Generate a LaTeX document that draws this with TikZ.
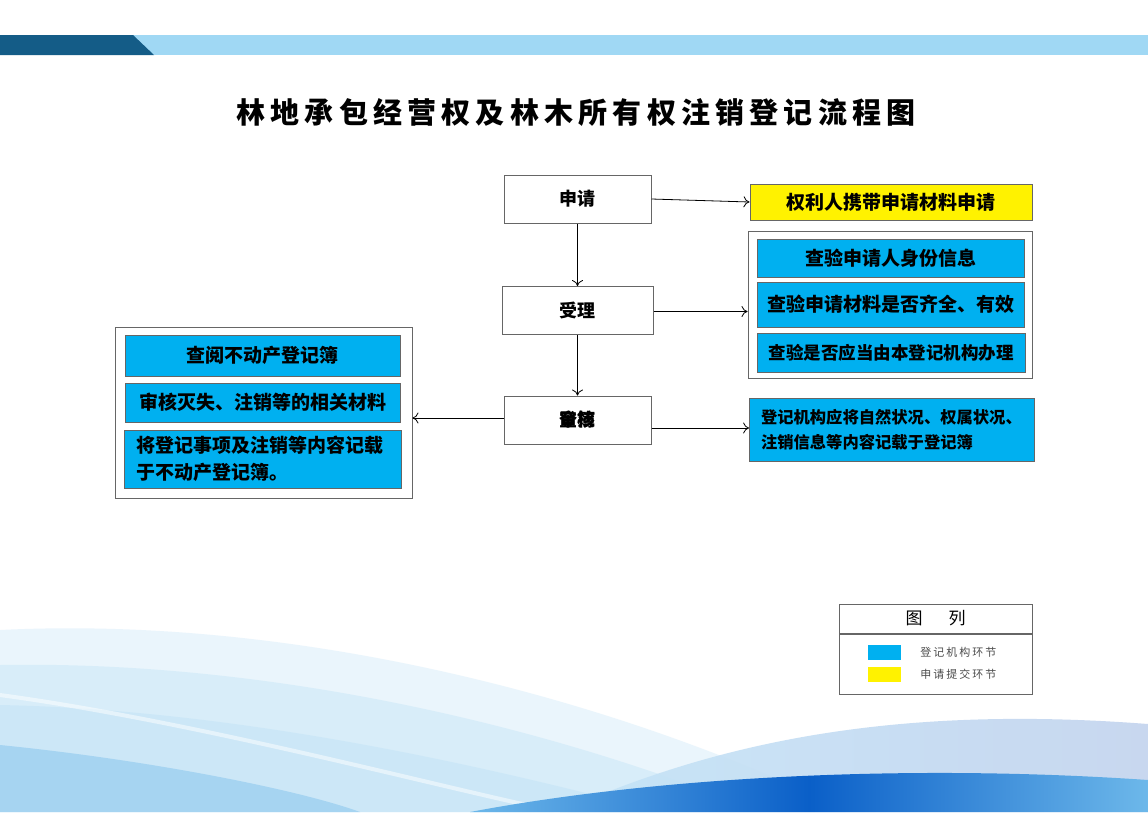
\documentclass[tikz,border=0pt]{standalone}
\usepackage{fontspec}
\usepackage{tikz}
\usetikzlibrary{positioning,arrows.meta}
\setmainfont{Noto Sans CJK SC}
\newfontfamily\titlefont[LetterSpace=18]{Noto Sans CJK SC}
\newfontfamily\legendfont[LetterSpace=18]{Noto Sans CJK SC}

\definecolor{regblue}{HTML}{00B0F0}
\definecolor{bandlight}{HTML}{A0D8F4}
\definecolor{banddark}{HTML}{145C87}
\definecolor{edgegray}{HTML}{666666}
\definecolor{wavelight}{HTML}{C4E4F7}
\definecolor{wavemid}{HTML}{6DB8EA}
\definecolor{wavedeep}{HTML}{0A5FC8}
\definecolor{wavehill}{HTML}{C3D3EE}

\begin{document}
\begin{tikzpicture}[x=1pt,y=-1pt,
  stepnode/.style={draw=edgegray,line width=1pt,fill=white,minimum width=147pt,minimum height=48pt,inner sep=0pt,font=\fontsize{18}{20}\selectfont\bfseries},
  regbox/.style={draw=edgegray,line width=0.8pt,fill=regblue,inner sep=0pt,font=\fontsize{19}{27}\selectfont\bfseries},
  groupbox/.style={draw=edgegray,line width=1pt,fill=white,inner sep=0pt},
  link/.style={-{To[length=6pt,width=11pt]},line width=0.8pt}]
\useasboundingbox (0,0) rectangle (1148,812);
\fill[white] (0,0) rectangle (1148,812);

% background waves
\fill[wavelight,opacity=0.35] (0,630) .. controls (300,615) and (620,700) .. (850,812) -- (0,812) -- cycle;
\fill[wavelight,opacity=0.45] (0,665) .. controls (280,660) and (560,730) .. (760,812) -- (0,812) -- cycle;
\fill[wavelight,opacity=0.6] (0,705) .. controls (250,710) and (500,770) .. (660,812) -- (0,812) -- cycle;
\draw[white,line width=4pt,opacity=0.5] (0,695) .. controls (200,722) and (450,790) .. (560,812);
\fill[wavemid,opacity=0.4] (0,745) .. controls (150,760) and (300,790) .. (360,812) -- (0,812) -- cycle;
\path[left color=wavelight,right color=wavehill,opacity=0.9] (560,812) .. controls (720,740) and (900,705) .. (1148,724) -- (1148,812) -- cycle;
\path[left color=wavemid,right color=wavemid,middle color=wavedeep] (470,812) .. controls (650,778) and (900,763) .. (1148,780) -- (1148,812) -- cycle;

% top band
\fill[bandlight] (0,35) rectangle (1148,55);
\fill[banddark] (0,35) -- (133,35) -- (154,55) -- (0,55) -- cycle;

\node (title) at (576,112) {\titlefont\fontsize{29}{32}\selectfont\bfseries 林地承包经营权及林木所有权注销登记流程图};

% main steps
\node[stepnode] (apply) at (577.5,199) {申请};
\node[stepnode,minimum width=151pt] (accept) at (577.5,310.5) {受理};
\node[stepnode] (review) at (577.5,420) {审核};
\node[font=\fontsize{18}{20}\selectfont\bfseries] (record) at (review) {登簿};

% right side
\node[draw=edgegray,line width=1pt,fill=yellow,minimum width=282pt,minimum height=36pt,inner sep=0pt,font=\fontsize{19}{22}\selectfont\bfseries] (applynote) at (891,202) {权利人携带申请材料申请};

\node[groupbox,minimum width=284pt,minimum height=147pt] (checkgroup) at (890,304.5) {};
\node[regbox,minimum width=267pt,minimum height=38pt] (checkid) at (890.5,258) {查验申请人身份信息};
\node[regbox,minimum width=267pt,minimum height=45pt] (checkdoc) at (890.5,304.5) {查验申请材料是否齐全、有效};
\node[regbox,minimum width=268pt,minimum height=39pt,font=\fontsize{17.5}{22}\selectfont\bfseries] (checkorg) at (891,352.5) {查验是否应当由本登记机构办理};

\node[regbox,minimum width=285pt,minimum height=63pt,text width=262pt,align=left,font=\fontsize{16.3}{25}\selectfont\bfseries] (recordnote) at (892,429.5) {登记机构应将自然状况、权属状况、\\注销信息等内容记载于登记簿};

% left side
\node[groupbox,minimum width=297pt,minimum height=171pt] (leftgroup) at (263.5,412.5) {};
\node[regbox,minimum width=275pt,minimum height=41pt] (lookup) at (262.5,355.5) {查阅不动产登记簿};
\node[regbox,minimum width=275pt,minimum height=39pt] (verify) at (262.5,402.5) {审核灭失、注销等的相关材料};
\node[regbox,minimum width=277pt,minimum height=58pt,text width=252pt,align=left] (enter) at (262.5,459) {将登记事项及注销等内容记载\\于不动产登记簿。};

% connectors
\draw[link] (apply) -- (accept);
\draw[link] (accept) -- (review);
\draw[link] (apply.east) -- (applynote.west);
\draw[link] ([yshift=-1pt]accept.east) -- ([yshift=-1pt]accept.east -| checkgroup.west);
\draw[link] ([yshift=-8pt]review.east) -- ([yshift=-8pt]review.east -| recordnote.west);
\draw[link] ([yshift=2pt]review.west) -- ([yshift=2pt]review.west -| leftgroup.east);

% legend
\node[draw=edgegray,line width=1pt,fill=white,minimum width=193pt,minimum height=29pt,inner sep=0pt,font=\fontsize{17}{20}\selectfont] (legendhead) at (935.5,618.5) {图\hspace{26pt}列};
\node[draw=edgegray,line width=1pt,fill=white,minimum width=193pt,minimum height=60pt,inner sep=0pt,below=0pt of legendhead] (legendbody) {};
\node[fill=regblue,minimum width=33pt,minimum height=15pt,inner sep=0pt] (swatchreg) at (884.5,652.5) {};
\node[fill=yellow,minimum width=33pt,minimum height=15pt,inner sep=0pt] (swatchapp) at (884.5,674.5) {};
\node[right=19pt of swatchreg,inner sep=0pt,text=black!70,font=\legendfont\fontsize{11}{13}\selectfont] (legendreg) {登记机构环节};
\node[right=19pt of swatchapp,inner sep=0pt,text=black!70,font=\legendfont\fontsize{11}{13}\selectfont] (legendapp) {申请提交环节};

\end{tikzpicture}
\end{document}
